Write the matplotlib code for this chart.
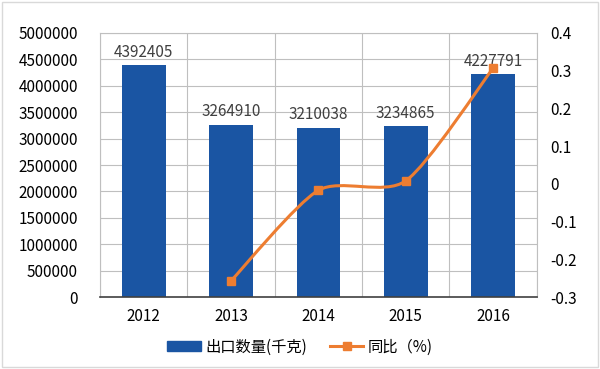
import matplotlib.pyplot as plt
from matplotlib.path import Path
from matplotlib.patches import PathPatch, Rectangle
from matplotlib.lines import Line2D

plt.rcParams['font.family'] = ['Noto Sans CJK SC', 'DejaVu Sans']

years = ['2012', '2013', '2014', '2015', '2016']
export_qty = [4392405, 3264910, 3210038, 3234865, 4227791]
yoy_years = ['2013', '2014', '2015', '2016']
yoy = [-0.257, -0.017, 0.008, 0.307]

bar_color = '#1A55A3'
line_color = '#ED7D31'
grid_color = '#BFBFBF'

fig = plt.figure(figsize=(6, 3.69), dpi=100)
ax = fig.add_axes([0.1667, 0.195, 0.728, 0.7156])
ax2 = ax.twinx()

x = list(range(len(years)))
ax.bar(x, export_qty, width=0.5, color=bar_color, zorder=2)
for xi, v in zip(x, export_qty):
    ax.text(xi, v + 80000, str(v), ha='center', va='bottom', fontsize=11, color='#404040', zorder=4)

ax.set_xlim(-0.5, len(years) - 0.5)
ax.set_ylim(0, 5000000)
yt = list(range(0, 5000001, 500000))
ax.set_yticks(yt)
ax.set_yticklabels([str(v) for v in yt])
ax.set_xticks(x)
ax.set_xticklabels(years)
ax.set_xticks([i * 0.5 - 0.5 for i in range(2 * len(years) + 1)], minor=True)
ax.grid(True, which='major', axis='y', color=grid_color, lw=0.8, zorder=0)
ax.grid(True, which='minor', axis='x', color=grid_color, lw=0.8, zorder=0)
ax.set_axisbelow(True)
ax.tick_params(axis='both', which='both', length=0, labelsize=11, colors='#000000')
ax.tick_params(axis='x', pad=8)
ax.tick_params(axis='y', pad=16)
for s in ['left', 'right', 'top']:
    ax.spines[s].set_color(grid_color)
ax.spines['bottom'].set_color('#404040')
ax.spines['bottom'].set_linewidth(1.2)

# smooth line through the yoy points (Catmull-Rom as cubic Bezier path)
px = [years.index(y) for y in yoy_years]
pts = list(zip(px, yoy))
verts = [pts[0]]
codes = [Path.MOVETO]
k = 1 / 8
for i in range(len(pts) - 1):
    p0 = pts[i - 1] if i > 0 else pts[i]
    p1 = pts[i]
    p2 = pts[i + 1]
    p3 = pts[i + 2] if i + 2 < len(pts) else pts[i + 1]
    c1 = (p1[0] + (p2[0] - p0[0]) * k, p1[1] + (p2[1] - p0[1]) * k)
    c2 = (p2[0] - (p3[0] - p1[0]) * k, p2[1] - (p3[1] - p1[1]) * k)
    verts += [c1, c2, p2]
    codes += [Path.CURVE4] * 3
ax2.add_patch(PathPatch(Path(verts, codes), fill=False, edgecolor=line_color, lw=2.2, zorder=3))
ax2.plot(px, yoy, ls='none', marker='s', ms=6, color=line_color, zorder=4)

ax2.set_ylim(-0.3, 0.4)
ax2.set_yticks([0.4, 0.3, 0.2, 0.1, 0, -0.1, -0.2, -0.3])
ax2.set_yticklabels(['0.4', '0.3', '0.2', '0.1', '0', '-0.1', '-0.2', '-0.3'])
ax2.tick_params(axis='y', length=0, labelsize=11, pad=10)
for s in ax2.spines.values():
    s.set_visible(False)

handles = [Rectangle((0, 0), 1, 1, color=bar_color),
           Line2D([], [], color=line_color, lw=2.2, marker='s', ms=6)]
fig.legend(handles, ['出口数量(千克)', '同比（%)'], loc='center', bbox_to_anchor=(0.5, 0.06),
           ncol=2, frameon=False, fontsize=11, handlelength=2.2, handleheight=0.6,
           columnspacing=1.5, handletextpad=0.3)

fig.add_artist(Rectangle((0.003, 0.005), 0.994, 0.99, transform=fig.transFigure,
                         fill=False, edgecolor='#D9D9D9', lw=1))

fig.savefig('out.png', dpi=100)
